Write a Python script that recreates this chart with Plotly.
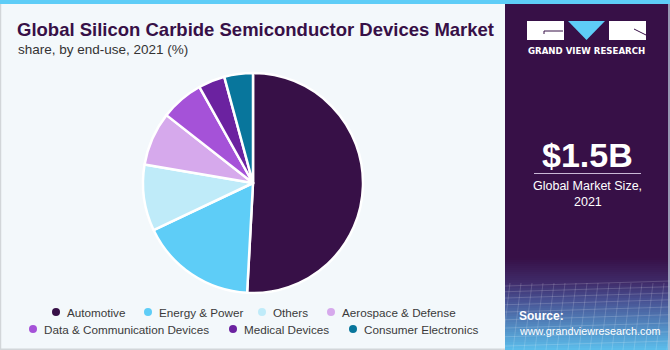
import plotly.graph_objects as go

# End-use shares of the global SiC semiconductor devices market, 2021 (%)
segments = ["Automotive", "Energy & Power", "Others", "Aerospace & Defense",
            "Data & Communication Devices", "Medical Devices", "Consumer Electronics"]
shares = [50.8, 17.1, 9.7, 7.9, 6.3, 3.9, 4.2]
colors = ["#371047", "#5ECDF7", "#BFEBF9", "#D6A9EC", "#A552D8", "#6B22A0", "#08769C"]

# legend rows: (segment index, dot x position in px)
legend_rows = [
    [(0, 56), (1, 148), (2, 262), (3, 331)],
    [(4, 33), (5, 233), (6, 353)],
]
legend_y = [312, 329]

W, H = 670, 350
PANEL_X = 505
DARK = "#371047"


def px(x):
    return x / W


def py(y):
    return 1 - y / H


def rect_path(x0, y0, x1, y1):
    return "M %f %f L %f %f L %f %f L %f %f Z" % (
        px(x0), py(y0), px(x1), py(y0), px(x1), py(y1), px(x0), py(y1))


fig = go.Figure()

fig.add_trace(go.Pie(
    labels=segments,
    values=shares,
    sort=False,
    direction="clockwise",
    rotation=0,
    marker=dict(colors=colors, line=dict(color="white", width=2.5)),
    textinfo="none",
    hoverinfo="label+percent",
    showlegend=False,
    domain=dict(x=[px(143), px(363)], y=[py(293), py(73)]),
))

shapes = []
annotations = []

# left panel background + border
shapes.append(dict(type="rect", xref="paper", yref="paper", x0=0, x1=px(PANEL_X), y0=0, y1=1,
                   fillcolor="#F3F8FB", line=dict(width=0), layer="below"))
shapes.append(dict(type="line", xref="paper", yref="paper", x0=px(0.5), x1=px(0.5), y0=0, y1=1,
                   line=dict(color="#D2D6D9", width=1.5), layer="below"))
shapes.append(dict(type="line", xref="paper", yref="paper", x0=0, x1=px(PANEL_X), y0=py(349.3), y1=py(349.3),
                   line=dict(color="#D2D6D9", width=1.5), layer="below"))

# right panel
shapes.append(dict(type="rect", xref="paper", yref="paper", x0=px(PANEL_X), x1=1, y0=0, y1=1,
                   fillcolor=DARK, line=dict(width=0), layer="below"))

# bottom gradient of right panel (purple -> sky blue)
stops = [(258, (0x37, 0x10, 0x47)), (283, (0x40, 0x2C, 0x6A)),
         (300, (0x48, 0x50, 0x92)), (350, (0x5C, 0xBE, 0xEC))]
g0, g1 = 258, 350
steps = 46
for i in range(steps):
    ya = g0 + (g1 - g0) * i / steps
    yb = g0 + (g1 - g0) * (i + 1) / steps + 0.6
    ym = (ya + yb) / 2
    for j in range(len(stops) - 1):
        if stops[j][0] <= ym <= stops[j + 1][0]:
            u = (ym - stops[j][0]) / (stops[j + 1][0] - stops[j][0])
            c = tuple(int(stops[j][1][k] + (stops[j + 1][1][k] - stops[j][1][k]) * u) for k in range(3))
            break
    shapes.append(dict(type="rect", xref="paper", yref="paper", x0=px(PANEL_X), x1=1,
                       y0=py(yb), y1=py(ya), fillcolor="rgb(%d,%d,%d)" % c,
                       line=dict(width=0), layer="below"))

# faint perspective grid over the gradient
for k in range(10):
    yy = 284 + k * 5.5 + k * k * 0.25
    shapes.append(dict(type="line", xref="paper", yref="paper", x0=px(PANEL_X), x1=1,
                       y0=py(yy + 2), y1=py(yy - 3),
                       line=dict(color="rgba(255,255,255,0.17)", width=1), layer="below"))
for k in range(16):
    xx = PANEL_X + k * 11
    shapes.append(dict(type="line", xref="paper", yref="paper", x0=px(xx + 5), x1=px(xx - 3),
                       y0=py(283), y1=py(350),
                       line=dict(color="rgba(255,255,255,0.16)", width=1), layer="below"))

# right edge border
shapes.append(dict(type="line", xref="paper", yref="paper", x0=px(669), x1=px(669), y0=0, y1=1,
                   line=dict(color="#B8C4D6", width=1.5), layer="below"))

# top accent strip
shapes.append(dict(type="rect", xref="paper", yref="paper", x0=0, x1=1, y0=py(4), y1=1,
                   fillcolor="#5ECDF7", line=dict(width=0)))

# logo blocks
shapes.append(dict(type="path", xref="paper", yref="paper", path=rect_path(527, 21, 564, 40),
                   fillcolor="#FFFFFF", line=dict(width=0)))
shapes.append(dict(type="path", xref="paper", yref="paper",
                   path="M %f %f L %f %f L %f %f Z" % (px(568), py(21), px(605), py(21), px(586.5), py(40)),
                   fillcolor="#5ECDF7", line=dict(width=0)))
shapes.append(dict(type="path", xref="paper", yref="paper", path=rect_path(609, 21, 646, 40),
                   fillcolor="#FFFFFF", line=dict(width=0)))
# notches inside logo blocks
shapes.append(dict(type="line", xref="paper", yref="paper", x0=px(544), x1=px(563), y0=py(31), y1=py(31),
                   line=dict(color=DARK, width=1)))
shapes.append(dict(type="line", xref="paper", yref="paper", x0=px(544), x1=px(544), y0=py(31), y1=py(34),
                   line=dict(color=DARK, width=1)))
shapes.append(dict(type="line", xref="paper", yref="paper", x0=px(634), x1=px(646), y0=py(29), y1=py(35),
                   line=dict(color=DARK, width=1)))

# separator under the market size
shapes.append(dict(type="line", xref="paper", yref="paper", x0=px(534), x1=px(641), y0=py(173.5), y1=py(173.5),
                   line=dict(color="#C9B8D6", width=1.2)))

# legend dots
for row, yv in zip(legend_rows, legend_y):
    for idx, dx in row:
        shapes.append(dict(type="circle", xref="paper", yref="paper",
                           x0=px(dx - 4), x1=px(dx + 4), y0=py(yv + 4), y1=py(yv - 4),
                           fillcolor=colors[idx], line=dict(width=0)))
        annotations.append(dict(xref="paper", yref="paper", x=px(dx + 8.5), y=py(yv),
                                xanchor="left", yanchor="middle", showarrow=False,
                                text=segments[idx],
                                font=dict(family="Liberation Sans, Arial", size=11.7, color="#3A3A3A")))

# titles
annotations.append(dict(xref="paper", yref="paper", x=px(15), y=py(29.5), xanchor="left", yanchor="middle",
                        showarrow=False, text="<b>Global Silicon Carbide Semiconductor Devices Market</b>",
                        font=dict(family="Liberation Sans, Arial", size=18.5, color=DARK)))
annotations.append(dict(xref="paper", yref="paper", x=px(16), y=py(49.5), xanchor="left", yanchor="middle",
                        showarrow=False, text="share, by end-use, 2021 (%)",
                        font=dict(family="Liberation Sans, Arial", size=13.5, color="#333333")))

# right panel texts
annotations.append(dict(xref="paper", yref="paper", x=px(586.5), y=py(51.5), xanchor="center", yanchor="middle",
                        showarrow=False, text="<b>GRAND VIEW RESEARCH</b>",
                        font=dict(family="DejaVu Sans", size=8.6, color="white")))
annotations.append(dict(xref="paper", yref="paper", x=px(587.5), y=py(155), xanchor="center", yanchor="middle",
                        showarrow=False, text="<b>$1.5B</b>",
                        font=dict(family="Liberation Sans, Arial", size=34, color="white")))
annotations.append(dict(xref="paper", yref="paper", x=px(587.5), y=py(186), xanchor="center", yanchor="middle",
                        showarrow=False, text="Global Market Size,",
                        font=dict(family="Liberation Sans, Arial", size=12.5, color="white")))
annotations.append(dict(xref="paper", yref="paper", x=px(587.5), y=py(201.5), xanchor="center", yanchor="middle",
                        showarrow=False, text="2021",
                        font=dict(family="Liberation Sans, Arial", size=12.5, color="white")))
annotations.append(dict(xref="paper", yref="paper", x=px(517), y=py(316), xanchor="left", yanchor="middle",
                        showarrow=False, text="<b>Source:</b>",
                        font=dict(family="Liberation Sans, Arial", size=12, color="white")))
annotations.append(dict(xref="paper", yref="paper", x=px(517), y=py(330.5), xanchor="left", yanchor="middle",
                        showarrow=False, text="www.grandviewresearch.com",
                        font=dict(family="Liberation Sans, Arial", size=10.8, color="white")))

fig.update_layout(
    width=W, height=H,
    margin=dict(l=0, r=0, t=0, b=0),
    paper_bgcolor="#F3F8FB",
    plot_bgcolor="#F3F8FB",
    shapes=shapes,
    annotations=annotations,
    showlegend=False,
)

fig.write_html("out.html")
